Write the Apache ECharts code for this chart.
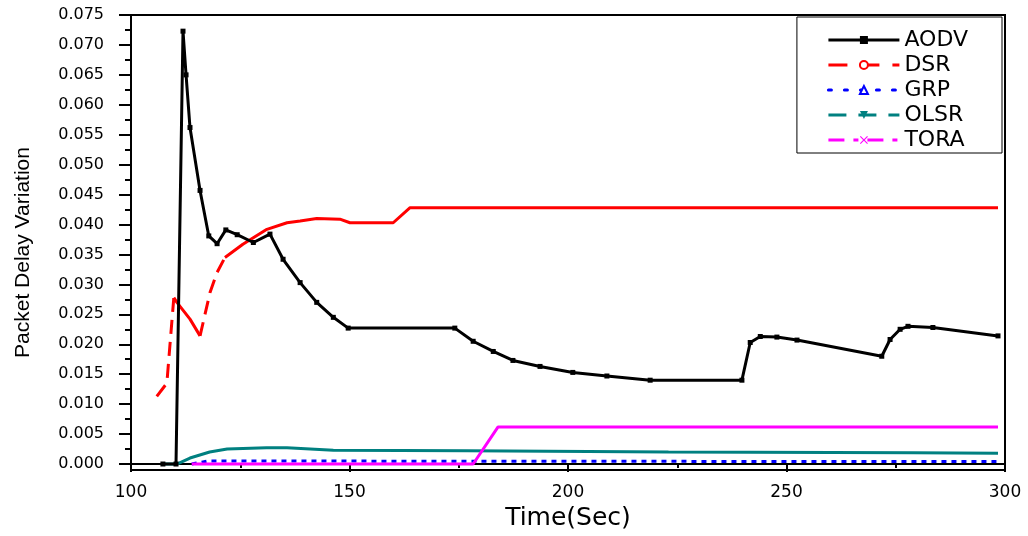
<!DOCTYPE html>
<html>
<head>
<meta charset="utf-8">
<script src="https://cdn.jsdelivr.net/npm/echarts@6/dist/echarts.min.js"></script>
<style>
  html, body { margin: 0; padding: 0; background: #fff; }
  #chart { width: 1028px; height: 536px; }
</style>
</head>
<body>
<div id="chart"></div>
<script>
// Packet delay variation per routing protocol over simulation time (seconds)
const timeAODV = [107.3, 110.3, 111.9, 112.6, 113.5, 115.8, 117.8, 119.7, 121.7, 124.3, 128.0, 131.8,
  134.8, 138.7, 142.5, 146.3, 149.7, 174.1, 178.3, 182.9, 187.4, 193.6, 201.1, 208.9, 218.8, 239.8,
  241.7, 244.0, 247.8, 252.4, 271.8, 273.7, 276.0, 277.8, 283.5, 298.4];
const valueAODV = [0, 0, 0.0723, 0.0650, 0.0562, 0.0457, 0.0381, 0.0368, 0.0391, 0.0383, 0.0370, 0.0384,
  0.0342, 0.0303, 0.0270, 0.0245, 0.0227, 0.0227, 0.0205, 0.0188, 0.0173, 0.0163, 0.0153, 0.0147, 0.0140, 0.0140,
  0.0203, 0.0213, 0.0212, 0.0207, 0.0180, 0.0208, 0.0225, 0.0230, 0.0228, 0.0214];

const timeDSR = [105.9, 108.2, 109.8, 110.5, 113.5, 115.8, 118.1, 119.7, 121.5, 125.6, 131.1, 135.7,
  138.7, 142.5, 147.8, 150.1, 160.0, 163.8, 298.4];
const valueDSR = [0.0113, 0.0135, 0.0278, 0.0270, 0.0242, 0.0214, 0.0287, 0.0320, 0.0345, 0.0367, 0.0392, 0.0403,
  0.0406, 0.0410, 0.0409, 0.0403, 0.0403, 0.0428, 0.0428];

const timeGRP = [113.9, 117.5, 124.0, 298.4];
const valueGRP = [0, 0.0005, 0.0005, 0.0004];

const timeOLSR = [107.3, 110.5, 113.5, 118.0, 122.0, 131.0, 135.7, 146.3, 176.9, 223.0, 279.0, 298.4];
const valueOLSR = [0, 0, 0.0010, 0.0020, 0.0025, 0.0027, 0.0027, 0.0023, 0.0022, 0.0020, 0.0019, 0.0018];

const timeTORA = [113.9, 178.3, 184.0, 298.4];
const valueTORA = [0, 0, 0.0062, 0.0062];

const xTicks = [100, 150, 200, 250, 300];
const yTicks = [0, 0.005, 0.010, 0.015, 0.020, 0.025, 0.030, 0.035, 0.040, 0.045, 0.050, 0.055, 0.060, 0.065, 0.070, 0.075];

// Stretches of the DSR curve that are drawn dashed (sparse samples)
const dsrDashedSpans = [[105.9, 109.8], [115.8, 121.5]];

const pairs = (ts, vs) => ts.map((t, i) => [t, vs[i]]);

function splitBySpans(ts, vs, spans) {
  const dashedSeg = (a, b) => spans.some(([s, e]) => a >= s - 1e-9 && b <= e + 1e-9);
  const n = ts.length, solid = [], dashed = [];
  for (let i = 0; i < n; i++) {
    const prevD = i > 0 && dashedSeg(ts[i - 1], ts[i]);
    const nextD = i < n - 1 && dashedSeg(ts[i], ts[i + 1]);
    const prevS = i > 0 && !prevD;
    const nextS = i < n - 1 && !nextD;
    dashed.push([ts[i], (prevD || nextD) ? vs[i] : '-']);
    solid.push([ts[i], (prevS || nextS) ? vs[i] : '-']);
  }
  return { solid, dashed };
}
const dsrParts = splitBySpans(timeDSR, valueDSR, dsrDashedSpans);

// minor ticks halfway between the labelled ones
const yMinor = yTicks.slice(0, -1).map((v, i) => +((v + yTicks[i + 1]) / 2).toFixed(5));

const xShape = 'path://M0,1 L1,0 L5,4 L9,0 L10,1 L6,5 L10,9 L9,10 L5,6 L1,10 L0,9 L4,5 Z';
const tickFont = 'DejaVu Sans';
const C = { aodv: '#000000', dsr: '#ff0000', grp: '#0000ff', olsr: '#008080', tora: '#ff00ff' };

const chart = echarts.init(document.getElementById('chart'), null, { renderer: 'canvas' });
chart.setOption({
  animation: false,
  backgroundColor: '#ffffff',
  grid: {
    left: 131, right: 23, top: 15, bottom: 65,
    show: true, borderColor: '#000', borderWidth: 2, backgroundColor: 'transparent'
  },
  legend: {
    orient: 'vertical',
    right: 26, top: 17,
    padding: [12, 34, 2, 30],
    itemWidth: 71, itemHeight: 10, itemGap: 3,
    backgroundColor: '#fff',
    borderColor: '#000', borderWidth: 1,
    textStyle: { fontFamily: tickFont, fontSize: 22, lineHeight: 21, color: '#000' },
    data: [
      { name: 'AODV', lineStyle: { color: C.aodv, width: 3, type: 'solid' },
        itemStyle: { color: C.aodv } },
      { name: 'DSR', lineStyle: { color: C.dsr, width: 3, type: [19, 13] },
        itemStyle: { color: C.dsr } },
      { name: 'GRP', lineStyle: { color: C.grp, width: 3, type: [3, 13], cap: 'round' },
        itemStyle: { color: C.grp } },
      { name: 'OLSR', lineStyle: { color: C.olsr, width: 3, type: [18, 12] },
        itemStyle: { color: C.olsr } },
      { name: 'TORA', lineStyle: { color: C.tora, width: 3, type: [16, 9, 5, 9] },
        itemStyle: { color: C.tora } }
    ]
  },
  xAxis: {
    type: 'value', min: xTicks[0], max: xTicks[xTicks.length - 1], interval: 50,
    name: 'Time(Sec)', nameLocation: 'middle', nameGap: 36,
    nameTextStyle: { fontFamily: tickFont, fontSize: 25, color: '#000' },
    axisLine: { lineStyle: { color: '#000', width: 2 } },
    axisTick: { show: true, inside: false, length: 8, lineStyle: { color: '#000', width: 2 } },
    minorTick: { show: true, splitNumber: 2, length: 4, lineStyle: { color: '#000', width: 2 } },
    axisLabel: { fontFamily: tickFont, fontSize: 17, color: '#000', margin: 14 },
    splitLine: { show: false }
  },
  yAxis: [{
    type: 'value', min: -0.001, max: yTicks[yTicks.length - 1],
    name: 'Packet Delay Variation', nameLocation: 'middle', nameGap: 97, nameRotate: 90,
    nameTextStyle: { fontFamily: 'Liberation Sans', fontSize: 21, color: '#000', padding: [0, 20, 0, 0] },
    axisLine: { show: true, lineStyle: { color: '#000', width: 2 } },
    axisTick: { show: true, inside: false, length: 12, customValues: yTicks, lineStyle: { color: '#000', width: 2 } },
    axisLabel: { customValues: yTicks, fontFamily: tickFont, fontSize: 16, color: '#000', margin: 27,
      formatter: v => v.toFixed(3) },
    splitLine: { show: false }
  }, {
    type: 'value', min: -0.001, max: yTicks[yTicks.length - 1], position: 'left',
    axisLine: { show: false },
    axisTick: { show: true, inside: false, length: 6, customValues: yMinor, lineStyle: { color: '#000', width: 2 } },
    axisLabel: { show: false },
    splitLine: { show: false }
  }],
  series: [
    { name: 'AODV', type: 'line', data: pairs(timeAODV, valueAODV),
      symbol: 'rect', symbolSize: 5, showSymbol: true,
      itemStyle: { color: C.aodv }, lineStyle: { color: C.aodv, width: 3 }, z: 6 },
    { name: 'DSR', type: 'line', data: dsrParts.solid,
      symbol: 'emptyCircle', symbolSize: 5, showSymbol: false, connectNulls: false,
      itemStyle: { color: C.dsr }, lineStyle: { color: C.dsr, width: 3 }, z: 5 },
    { name: 'DSR', type: 'line', data: dsrParts.dashed,
      symbol: 'emptyCircle', symbolSize: 5, showSymbol: false, connectNulls: false,
      itemStyle: { color: C.dsr }, lineStyle: { color: C.dsr, width: 3, type: [14, 8] }, z: 5 },
    { name: 'GRP', type: 'line', data: pairs(timeGRP, valueGRP),
      symbol: 'emptyTriangle', symbolSize: 5, showSymbol: false,
      itemStyle: { color: C.grp }, lineStyle: { color: C.grp, width: 3, type: [5, 5] }, z: 4 },
    { name: 'OLSR', type: 'line', data: pairs(timeOLSR, valueOLSR),
      symbol: 'triangle', symbolRotate: 180, symbolSize: 5, showSymbol: false,
      itemStyle: { color: C.olsr }, lineStyle: { color: C.olsr, width: 3 }, z: 4 },
    { name: 'TORA', type: 'line', data: pairs(timeTORA, valueTORA),
      symbol: xShape, symbolSize: 5, showSymbol: false,
      itemStyle: { color: C.tora }, lineStyle: { color: C.tora, width: 3 }, z: 4 }
  ]
});
</script>
</body>
</html>
